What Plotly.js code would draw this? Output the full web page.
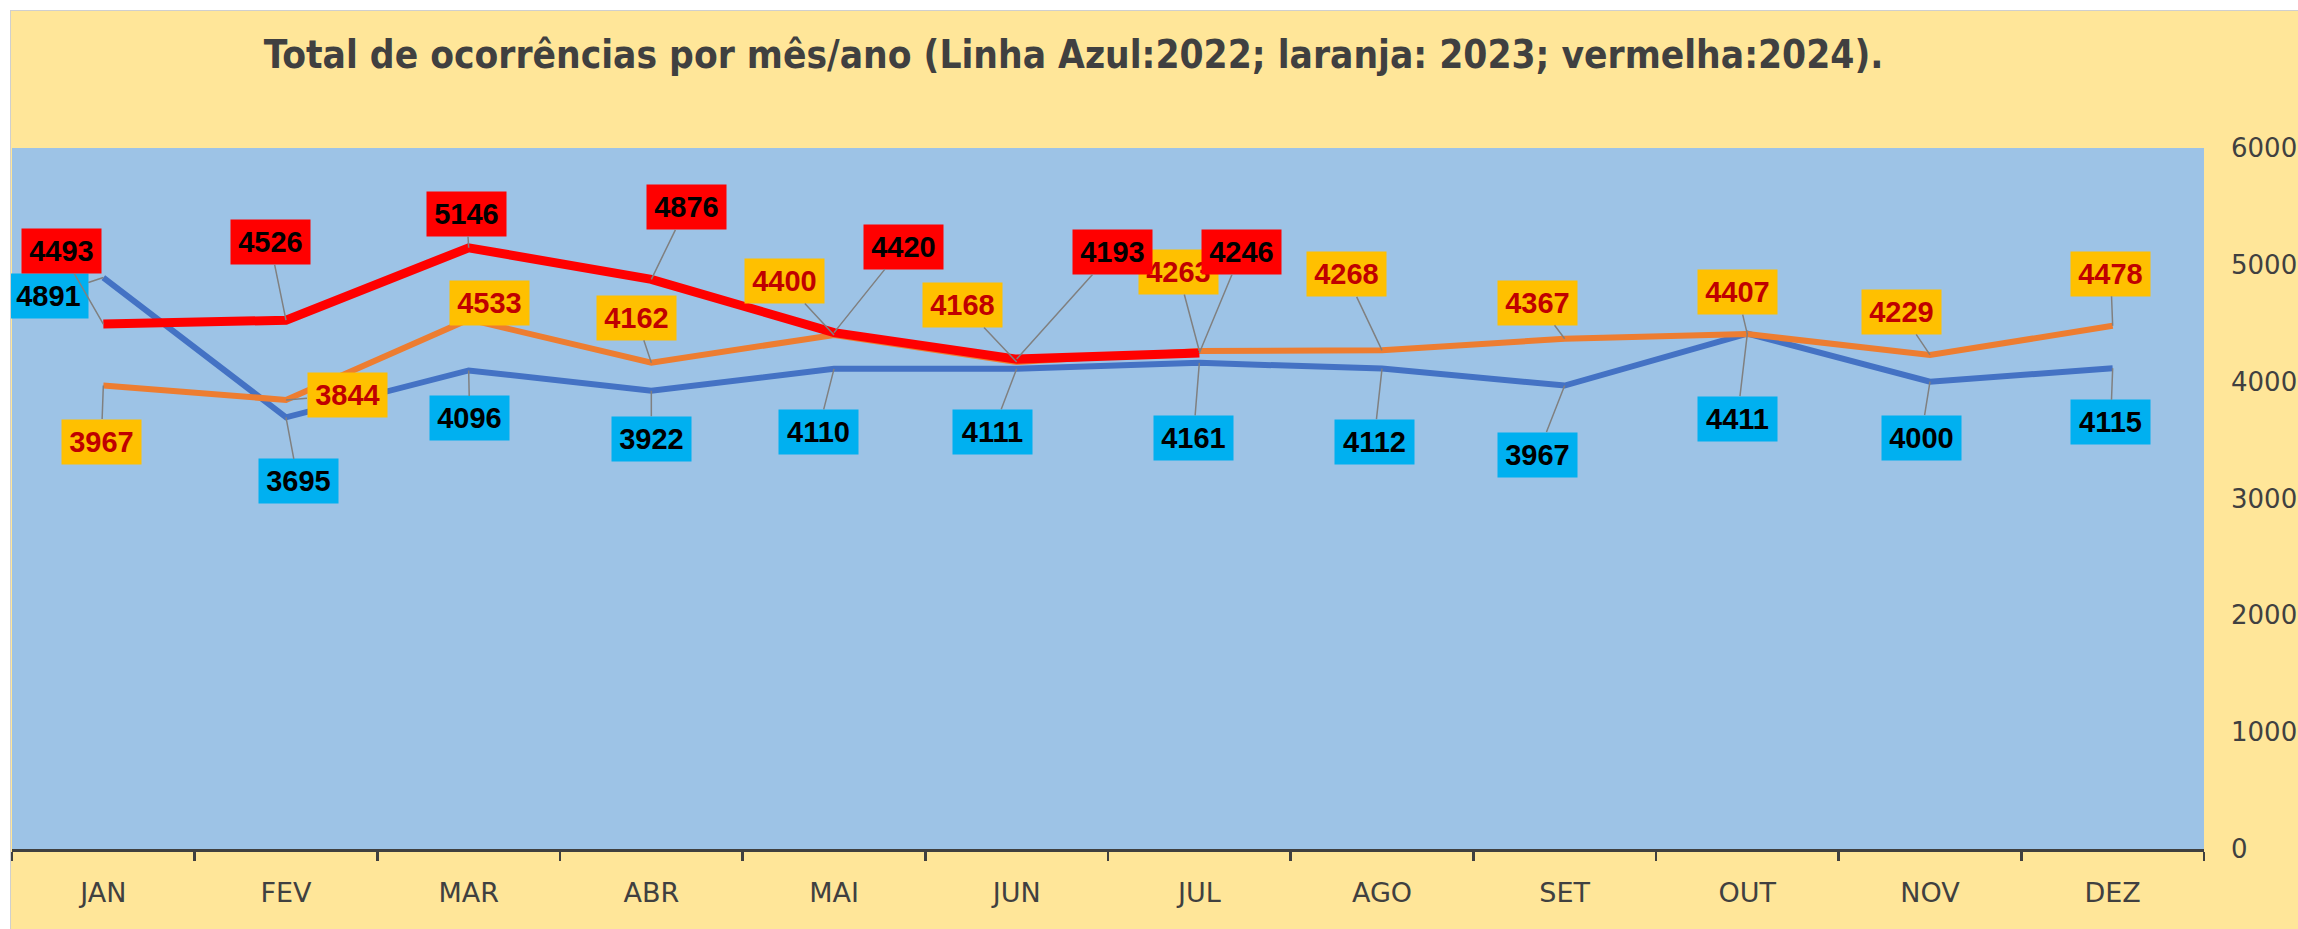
<!DOCTYPE html>
<html>
<head>
<meta charset="utf-8">
<script src="https://cdn.plot.ly/plotly-3.0.1.min.js"></script>
<style>
  html, body { margin: 0; padding: 0; background: #ffffff; }
  #chart { position: absolute; left: 10px; top: 10px; width: 2288px; height: 919px;
           border-left: 1px solid #cfcfcf; border-top: 1px solid #cfcfcf; }
</style>
</head>
<body>
<div id="chart"></div>
<script>
// ---- data ----
const months = ['JAN','FEV','MAR','ABR','MAI','JUN','JUL','AGO','SET','OUT','NOV','DEZ'];
const values2022 = [4891,3695,4096,3922,4110,4111,4161,4112,3967,4411,4000,4115];
const values2023 = [3967,3844,4533,4162,4400,4168,4263,4268,4367,4407,4229,4478];
const values2024 = [4493,4526,5146,4876,4420,4193,4246];
const yTicks = [0,1000,2000,3000,4000,5000,6000];
const titleText = 'Total de ocorrências por mês/ano (Linha Azul:2022; laranja: 2023; vermelha:2024).';

// ---- label placement (pixel offsets from the point to the label centre) ----
const off2022 = [[-55,18],[12,64],[1,48],[0,48],[-16,63],[-24,63],[-6,75],[-8,73],[-27,69],[-10,85],[-9,56],[-2,54]];
const off2023 = [[-2,56],[61,-5],[21,-16],[-15,-45],[-50,-54],[-54,-57],[-21,-79],[-36,-76],[-27,-36],[-10,-42],[-29,-43],[-2,-52]];
const off2024 = [[-42,-73],[-16,-78],[-2,-34],[35,-72],[69,-86],[96,-107],[42,-101]];

const labelFont = "'Liberation Sans', Arial, sans-serif";
const titleFont = "'DejaVu Sans Condensed', 'DejaVu Sans', sans-serif";

function makeLabels(vals, offs, bg, color) {
  return vals.map((v, i) => ({
    x: months[i], y: v, xref: 'x', yref: 'y',
    text: '<b>' + v + '</b>',
    showarrow: true, arrowhead: 0, arrowwidth: 1.5, arrowcolor: '#808080', standoff: 0,
    ax: offs[i][0], ay: offs[i][1], axref: 'pixel', ayref: 'pixel',
    bgcolor: bg, borderpad: 2, width: 75, height: 40,
    font: { family: labelFont, size: 29, color: color },
    align: 'center', valign: 'middle'
  }));
}

const traces = [
  { x: months, y: values2022, type: 'scatter', mode: 'lines', name: '2022',
    line: { color: '#4472C4', width: 6 }, hoverinfo: 'x+y' },
  { x: months, y: values2023, type: 'scatter', mode: 'lines', name: '2023',
    line: { color: '#ED7D31', width: 6 }, hoverinfo: 'x+y' },
  { x: months.slice(0, values2024.length), y: values2024, type: 'scatter', mode: 'lines', name: '2024',
    line: { color: '#FF0000', width: 9 }, hoverinfo: 'x+y' }
];

const annotations = []
  .concat(makeLabels(values2022, off2022, '#00B0F0', '#000000'))
  .concat(makeLabels(values2023, off2023, '#FFC000', '#C00000'))
  .concat(makeLabels(values2024, off2024, '#FF0000', '#000000'));

const layout = {
  width: 2288, height: 919,
  paper_bgcolor: '#FFE699', plot_bgcolor: '#9DC3E6',
  margin: { l: 1, r: 95, t: 137, b: 81 },
  showlegend: false,
  title: {
    text: '<b>' + titleText + '</b>',
    font: { family: titleFont, size: 38.5, color: '#404040' },
    xref: 'container', yref: 'container', x: 0.4644, xanchor: 'center', y: 0.953, yanchor: 'middle'
  },
  xaxis: {
    type: 'category', categoryorder: 'array', categoryarray: months,
    range: [-0.5, 11.5],
    showline: true, linecolor: '#404040', linewidth: 3,
    ticks: 'outside', tickson: 'boundaries', ticklen: 9, tickwidth: 2.5, tickcolor: '#404040',
    showgrid: false, zeroline: false,
    tickfont: { family: 'DejaVu Sans', size: 27, color: '#404040' },
    ticklabelstandoff: 18
  },
  yaxis: {
    side: 'right', range: [0, 6000], tickvals: yTicks, ticktext: yTicks.map(String),
    showgrid: false, zeroline: false, showline: false, ticks: '',
    tickfont: { family: 'DejaVu Sans', size: 26, color: '#404040' },
    ticklabelstandoff: 26
  },
  annotations: annotations
};

Plotly.newPlot('chart', traces, layout, { displayModeBar: false, staticPlot: true });
</script>
</body>
</html>
